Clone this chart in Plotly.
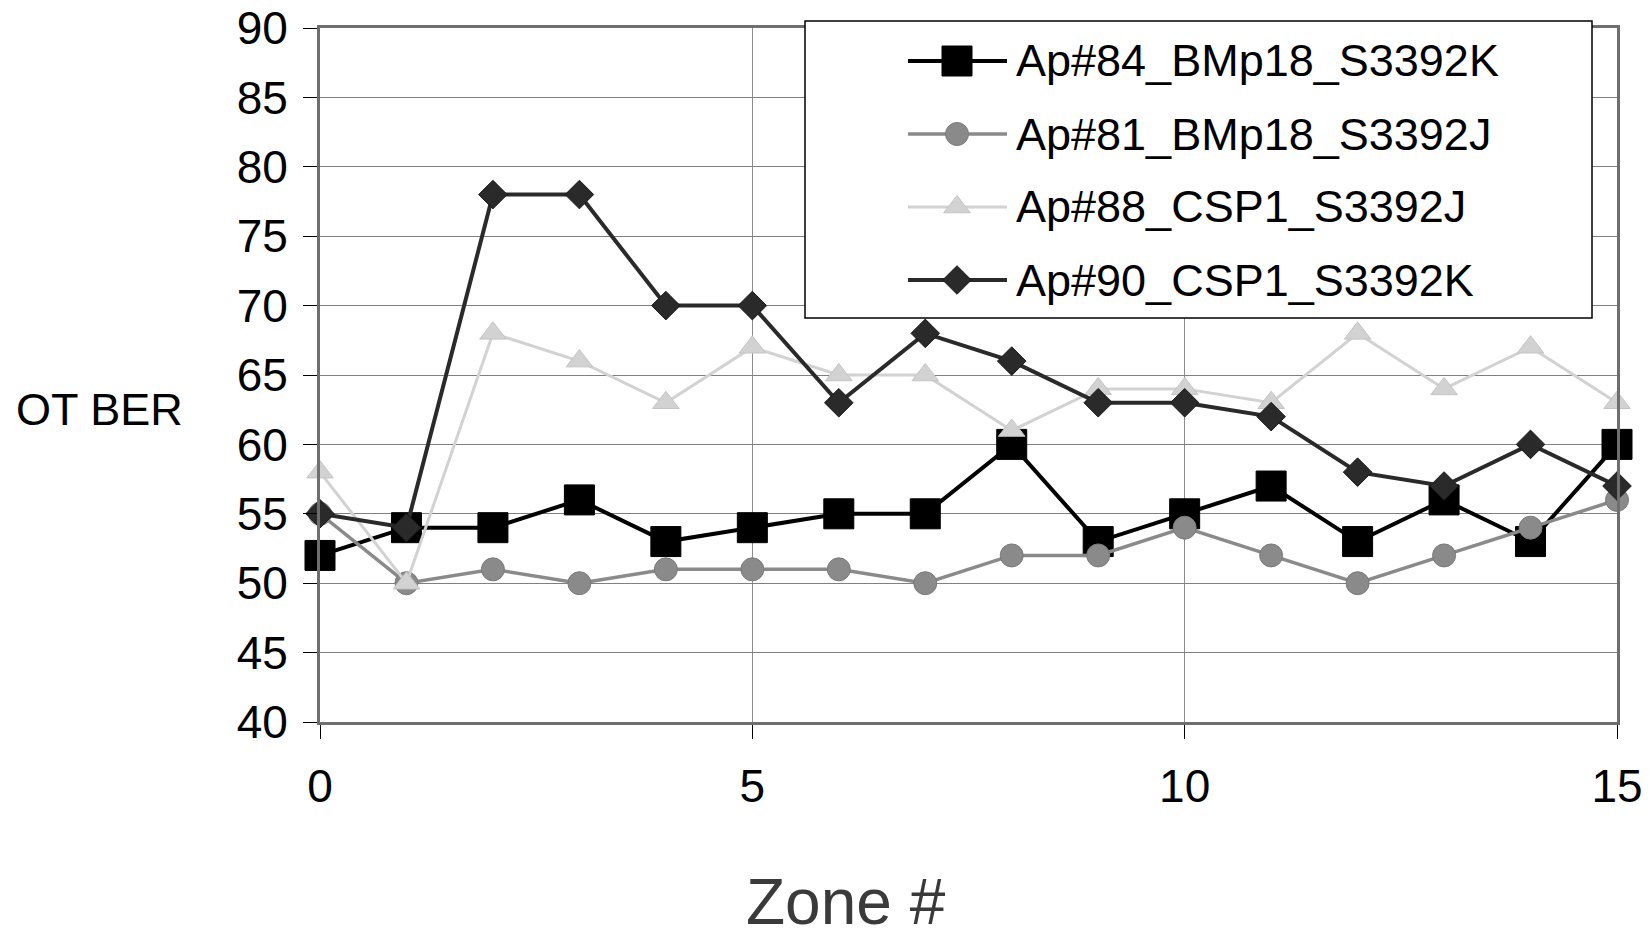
import plotly.graph_objects as go

# ---- data ----
zones = list(range(16))
ap84_bmp18_k = [52, 54, 54, 56, 53, 54, 55, 55, 60, 53, 55, 57, 53, 56, 53, 60]
ap81_bmp18_j = [55, 50, 51, 50, 51, 51, 51, 50, 52, 52, 54, 52, 50, 52, 54, 56]
ap88_csp1_j = [58, 50, 68, 66, 63, 67, 65, 65, 61, 64, 64, 63, 68, 64, 67, 63]
ap90_csp1_k = [55, 54, 78, 78, 70, 70, 63, 68, 66, 63, 63, 62, 58, 57, 60, 57]
names = ["Ap#84_BMp18_S3392K", "Ap#81_BMp18_S3392J", "Ap#88_CSP1_S3392J", "Ap#90_CSP1_S3392K"]
y_ticks = [40, 45, 50, 55, 60, 65, 70, 75, 80, 85, 90]
x_ticks = [0, 5, 10, 15]

FONT = "Liberation Sans, Arial, sans-serif"

# ---- styles ----
styles = [
    dict(color="#000000", lw=4, symbol="square", size=30, mline="#000000"),
    dict(color="#8a8a8a", lw=3.5, symbol="circle", size=23, mline="#7a7a7a"),
    dict(color="#d2d2d2", lw=3, symbol="triangle-up", size=23, mline="#c4c4c4"),
    dict(color="#2a2a2a", lw=4, symbol="diamond", size=22, mline="#1a1a1a"),
]
series = [ap84_bmp18_k, ap81_bmp18_j, ap88_csp1_j, ap90_csp1_k]

fig = go.Figure()
for name, vals, st in zip(names, series, styles):
    fig.add_trace(go.Scatter(
        x=zones, y=vals, name=name, mode="lines+markers",
        line=dict(color=st["color"], width=st["lw"]),
        marker=dict(symbol=st["symbol"], size=st["size"], color=st["color"],
                    line=dict(color=st["mline"], width=1)),
        cliponaxis=False, showlegend=False,
    ))

# ---- layout geometry (pixels) ----
W, H = 1652, 939
L, R, T, B = 320, 1617, 28, 722
PW, PH = R - L, B - T

def px2x(px):
    return (px - L) / PW

def py2y(py):
    return (B - py) / PH

shapes = []
annotations = []

# manual legend box
shapes.append(dict(type="rect", xref="paper", yref="paper",
                   x0=px2x(805), x1=px2x(1592), y0=py2y(318), y1=py2y(21),
                   fillcolor="white", line=dict(color="black", width=1.5), layer="above"))
rows = [61, 134, 207, 280]
cx = 957
for i, (name, st) in enumerate(zip(names, styles)):
    yy = py2y(rows[i])
    shapes.append(dict(type="line", xref="paper", yref="paper",
                       x0=px2x(908), x1=px2x(1007), y0=yy, y1=yy,
                       line=dict(color=st["color"], width=st["lw"]), layer="above"))
    common = dict(xref="paper", yref="paper", xsizemode="pixel", ysizemode="pixel",
                  xanchor=px2x(cx), yanchor=yy, fillcolor=st["color"],
                  line=dict(color=st["mline"], width=1), layer="above")
    r = st["size"] / 2
    if st["symbol"] == "square":
        shapes.append(dict(type="rect", x0=-r, x1=r, y0=-r, y1=r, **common))
    elif st["symbol"] == "circle":
        shapes.append(dict(type="circle", x0=-r, x1=r, y0=-r, y1=r, **common))
    elif st["symbol"] == "triangle-up":
        rt = r * 2 / 3 ** 0.5
        shapes.append(dict(type="path", path=f"M{-rt},{-r/2} L{rt},{-r/2} L0,{r} Z", **common))
    else:
        rd = r * 1.3
        shapes.append(dict(type="path", path=f"M{rd},0 L0,{rd} L{-rd},0 L0,{-rd} Z", **common))
    annotations.append(dict(xref="paper", yref="paper", x=px2x(1014), y=yy,
                            xanchor="left", yanchor="middle", text=name, showarrow=False,
                            font=dict(family=FONT, size=45, color="black")))

# axis titles as annotations
annotations.append(dict(xref="paper", yref="paper", x=px2x(14), y=py2y(409),
                        xanchor="left", yanchor="middle", text="OT BER", showarrow=False,
                        font=dict(family=FONT, size=45, color="black")))
annotations.append(dict(xref="paper", yref="paper", x=px2x(846), y=py2y(939),
                        xanchor="center", yanchor="bottom", text="Zone #", showarrow=False,
                        borderpad=0,
                        font=dict(family=FONT, size=64, color="#3a3a3a")))

fig.update_layout(
    width=W, height=H,
    margin=dict(l=L, r=W - R, t=T, b=H - B, pad=0, autoexpand=False),
    paper_bgcolor="white", plot_bgcolor="white",
    font=dict(family=FONT, size=46, color="black"),
    shapes=shapes, annotations=annotations,
    showlegend=False,
    xaxis=dict(range=[0, 15], tickvals=x_ticks, ticktext=[str(v) for v in x_ticks],
               showgrid=True, gridcolor="#8c8c8c", gridwidth=1,
               showline=True, linecolor="#6e6e6e", linewidth=3, mirror=True,
               ticks="outside", ticklen=14, tickcolor="black", tickwidth=1,
               tickfont=dict(family=FONT, size=46, color="black"),
               ticklabelstandoff=8, zeroline=False, automargin=False),
    yaxis=dict(range=[40, 90], tickvals=y_ticks, ticktext=[str(v) for v in y_ticks],
               showgrid=True, gridcolor="#808080", gridwidth=1,
               showline=True, linecolor="#6e6e6e", linewidth=3, mirror=True,
               ticks="outside", ticklen=14, tickcolor="black", tickwidth=1,
               tickfont=dict(family=FONT, size=46, color="black"),
               ticklabelstandoff=6, zeroline=False, automargin=False),
)

fig.write_html("out.html", config={"displayModeBar": False},
               post_script="document.body.style.margin='0';document.body.style.overflow='hidden';")
